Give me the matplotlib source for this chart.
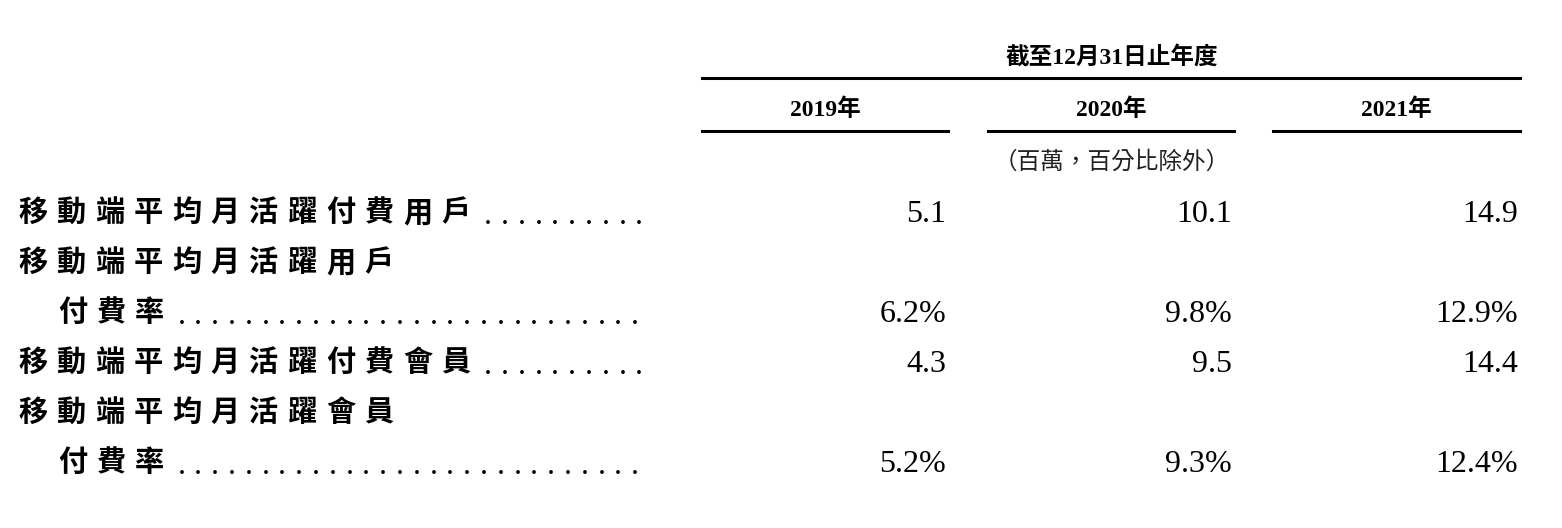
import matplotlib
matplotlib.use('Agg')
import matplotlib.pyplot as plt

# table content
header = '截至12月31日止年度'
years = ['2019年', '2020年', '2021年']
unit_note = '（百萬，百分比除外）'
labels = [
    ['移動端平均月活躍付費用戶'],
    ['移動端平均月活躍用戶', '付費率'],
    ['移動端平均月活躍付費會員'],
    ['移動端平均月活躍會員', '付費率'],
]
values = [
    ['5.1', '10.1', '14.9'],
    ['6.2%', '9.8%', '12.9%'],
    ['4.3', '9.5', '14.4'],
    ['5.2%', '9.3%', '12.4%'],
]

W, H = 1562, 528
fig = plt.figure(figsize=(W / 100, H / 100), dpi=100)
ax = fig.add_axes([0, 0, 1, 1])
ax.set_xlim(0, W)
ax.set_ylim(H, 0)
ax.axis('off')

cjk = ['Noto Sans CJK TC', 'DejaVu Sans']
num = ['Liberation Serif', 'Noto Sans CJK TC']

col_left = [702, 988, 1273]
col_right = [948, 1234, 1520]

ax.text(1112, 57, header, ha='center', va='center', fontsize=17, fontweight='bold', family=num)
ax.plot([702, 1520], [78, 78], color='black', lw=2.2)
for yr, l, r in zip(years, col_left, col_right):
    ax.text((l + r) / 2, 110, yr, ha='center', va='center', fontsize=17, fontweight='bold', family=num)
    ax.plot([l, r], [131, 131], color='black', lw=2.2)
ax.text(1112, 162, unit_note, ha='center', va='center', fontsize=17, style='italic', family=cjk, color='#222222')

pitch = 38.5
row_y = 212
for lab, vals in zip(labels, values):
    lines = lab
    for i, line in enumerate(lines):
        y = row_y + i * 50
        x0 = 18 if i == 0 else 58
        for k, ch in enumerate(line):
            ax.text(x0 + k * pitch, y, ch, ha='left', va='center', fontsize=21,
                    fontweight='bold', family=cjk)
    y = row_y + (len(lines) - 1) * 50
    x_end = 18 + len(lines[0]) * pitch if len(lines) == 1 else 58 + len(lines[-1]) * pitch
    xd = x_end + 8
    while xd < 645:
        ax.text(xd, y + 5, '.', ha='center', va='center', fontsize=23, family=num)
        xd += 16.8
    for v, r in zip(vals, col_right):
        ax.text(r - 2, y + 2, v, ha='right', va='center', fontsize=23, family=num)
    row_y = y + 50

fig.savefig('out.png', dpi=100, facecolor='white')
